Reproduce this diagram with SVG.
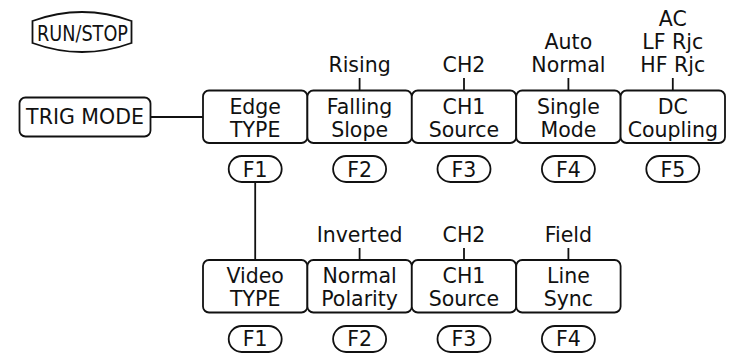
<svg xmlns="http://www.w3.org/2000/svg" width="731" height="353" viewBox="0 0 731 353">
<style>
.b{fill:#fff;stroke:#111;stroke-width:1.8}
.l{fill:none;stroke:#111;stroke-width:1.8}
text{font-family:"DejaVu Sans","Liberation Sans",sans-serif;font-size:20.5px;fill:#111;text-anchor:middle}
</style>
<rect width="731" height="353" fill="#fff"/>
<g id="runstop">
<path class="b" d="M32.5,21 Q82,3 131.5,21 L131.5,43 Q82,61 32.5,43 Z"/>
<text x="82.5" y="40.5" font-size="20" textLength="91" lengthAdjust="spacingAndGlyphs">RUN/STOP</text>
</g>
<g id="connectors">
<line class="l" x1="150.5" y1="117" x2="203" y2="117"/>
<line class="l" x1="255.2" y1="182" x2="255.2" y2="260"/>
<line class="l" x1="359.6" y1="78" x2="359.6" y2="90"/>
<line class="l" x1="464" y1="78" x2="464" y2="90"/>
<line class="l" x1="568.4" y1="78" x2="568.4" y2="90"/>
<line class="l" x1="672.8" y1="78" x2="672.8" y2="90"/>
<line class="l" x1="359.6" y1="248" x2="359.6" y2="260"/>
<line class="l" x1="464" y1="248" x2="464" y2="260"/>
<line class="l" x1="568.4" y1="248" x2="568.4" y2="260"/>
</g>
<g id="trigmode">
<rect class="b" x="19.5" y="97.5" width="131" height="39" rx="6"/>
<text x="85" y="124">TRIG MODE</text>
</g>
<g id="edge">
<rect class="b" x="203" y="90.5" width="104.4" height="52.5" rx="6"/>
<text x="255.2" y="113.5">Edge</text><text x="255.2" y="136.5">TYPE</text>
</g>
<g id="slope">
<rect class="b" x="307.4" y="90.5" width="104.4" height="52.5" rx="6"/>
<text x="359.6" y="71.5">Rising</text>
<text x="359.6" y="113.5">Falling</text><text x="359.6" y="136.5">Slope</text>
</g>
<g id="source">
<rect class="b" x="411.8" y="90.5" width="104.4" height="52.5" rx="6"/>
<text x="464" y="71.5">CH2</text>
<text x="464" y="113.5">CH1</text><text x="464" y="136.5">Source</text>
</g>
<g id="mode">
<rect class="b" x="516.2" y="90.5" width="104.4" height="52.5" rx="6"/>
<text x="568.4" y="48.5">Auto</text><text x="568.4" y="71.5">Normal</text>
<text x="568.4" y="113.5">Single</text><text x="568.4" y="136.5">Mode</text>
</g>
<g id="coupling">
<rect class="b" x="620.6" y="90.5" width="104.4" height="52.5" rx="6"/>
<text x="672.8" y="25.5">AC</text><text x="672.8" y="48.5">LF Rjc</text><text x="672.8" y="71.5">HF Rjc</text>
<text x="672.8" y="113.5">DC</text><text x="672.8" y="136.5">Coupling</text>
</g>
<g id="f1top"><rect class="b" x="228.7" y="156" width="53" height="26" rx="13"/><text x="255.2" y="177">F1</text></g>
<g id="f2top"><rect class="b" x="333.1" y="156" width="53" height="26" rx="13"/><text x="359.6" y="177">F2</text></g>
<g id="f3top"><rect class="b" x="437.5" y="156" width="53" height="26" rx="13"/><text x="464" y="177">F3</text></g>
<g id="f4top"><rect class="b" x="541.9" y="156" width="53" height="26" rx="13"/><text x="568.4" y="177">F4</text></g>
<g id="f5top"><rect class="b" x="646.3" y="156" width="53" height="26" rx="13"/><text x="672.8" y="177">F5</text></g>
<g id="video">
<rect class="b" x="203" y="260" width="104.4" height="52.5" rx="6"/>
<text x="255.2" y="282.5">Video</text><text x="255.2" y="305.5">TYPE</text>
</g>
<g id="polarity">
<rect class="b" x="307.4" y="260" width="104.4" height="52.5" rx="6"/>
<text x="359.6" y="241.5">Inverted</text>
<text x="359.6" y="282.5">Normal</text><text x="359.6" y="305.5">Polarity</text>
</g>
<g id="vsource">
<rect class="b" x="411.8" y="260" width="104.4" height="52.5" rx="6"/>
<text x="464" y="241.5">CH2</text>
<text x="464" y="282.5">CH1</text><text x="464" y="305.5">Source</text>
</g>
<g id="sync">
<rect class="b" x="516.2" y="260" width="104.4" height="52.5" rx="6"/>
<text x="568.4" y="241.5">Field</text>
<text x="568.4" y="282.5">Line</text><text x="568.4" y="305.5">Sync</text>
</g>
<g id="f1bot"><rect class="b" x="228.7" y="326" width="53" height="26" rx="13"/><text x="255.2" y="346">F1</text></g>
<g id="f2bot"><rect class="b" x="333.1" y="326" width="53" height="26" rx="13"/><text x="359.6" y="346">F2</text></g>
<g id="f3bot"><rect class="b" x="437.5" y="326" width="53" height="26" rx="13"/><text x="464" y="346">F3</text></g>
<g id="f4bot"><rect class="b" x="541.9" y="326" width="53" height="26" rx="13"/><text x="568.4" y="346">F4</text></g>
</svg>
